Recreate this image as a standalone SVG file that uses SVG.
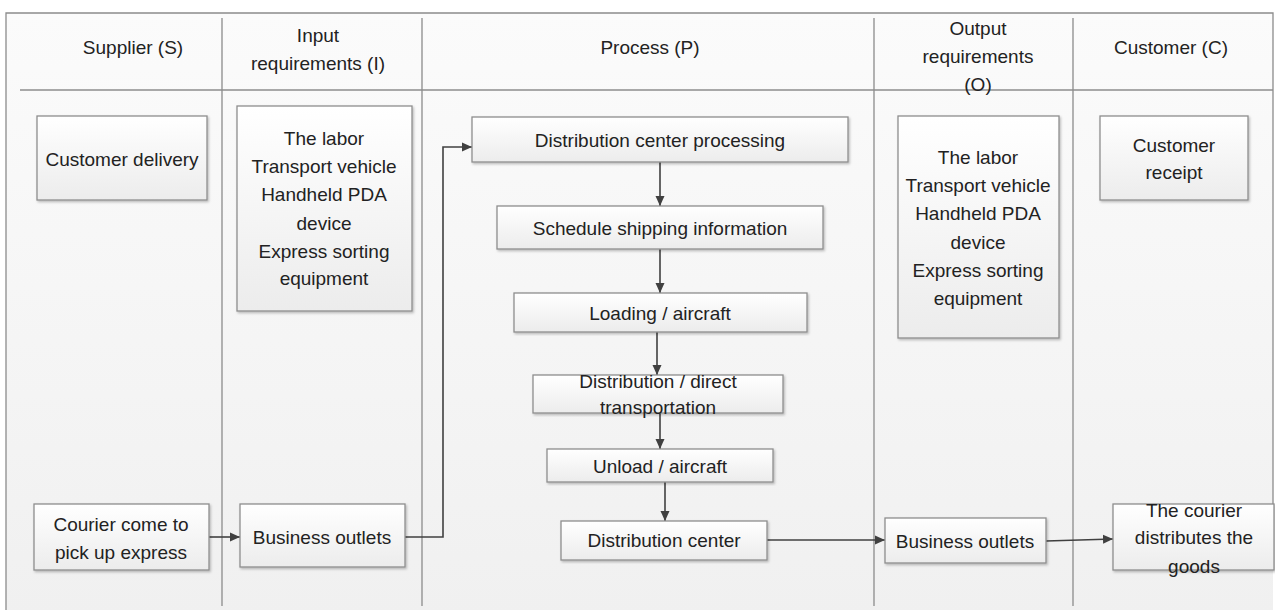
<svg xmlns="http://www.w3.org/2000/svg" width="1275" height="610" viewBox="0 0 1275 610">
<style>
text{font-family:"Liberation Sans",Arial,sans-serif;font-size:19px;fill:#222;text-anchor:middle}
.lane{stroke:#8c8c8c;stroke-width:1.3;fill:none}
.box{fill:url(#bg);stroke:#8e8e8e;stroke-width:1.3;filter:url(#sh)}
.con{stroke:#404040;stroke-width:1.6;fill:none;marker-end:url(#ah)}
</style>
<defs>
<linearGradient id="bg" x1="0" y1="0" x2="0" y2="1"><stop offset="0" stop-color="#ffffff"/><stop offset="1" stop-color="#ececec"/></linearGradient>
<linearGradient id="pg" x1="0" y1="0" x2="0" y2="1"><stop offset="0" stop-color="#fbfbfb"/><stop offset="1" stop-color="#f0f0f0"/></linearGradient>
<filter id="sh" x="-5%" y="-5%" width="110%" height="115%"><feDropShadow dx="1.2" dy="1.5" stdDeviation="0.8" flood-color="#000" flood-opacity="0.25"/></filter>
<marker id="ah" viewBox="0 0 10 10" refX="10" refY="5" markerWidth="10" markerHeight="10" markerUnits="userSpaceOnUse" orient="auto"><path d="M0,0.5 L10,5 L0,9.5 Z" fill="#404040"/></marker>
</defs>
<rect width="1275" height="610" fill="#ffffff"/>
<g id="frame">
<rect x="6" y="13" width="1267" height="600" fill="url(#pg)" stroke="none"/>
<path class="lane" d="M6,613 V13 H1273 V570"/>
<path class="lane" d="M20,90 H1273"/>
<path class="lane" d="M222,18 V606 M422,18 V606 M874,18 V606 M1073,18 V606"/>
</g>
<g id="headers">
<text x="133" y="54">Supplier (S)</text>
<text x="318" y="42">Input</text>
<text x="318" y="70">requirements (I)</text>
<text x="650" y="54">Process (P)</text>
<text x="978" y="35">Output</text>
<text x="978" y="63">requirements</text>
<text x="978" y="91">(O)</text>
<text x="1171" y="54">Customer (C)</text>
</g>
<g id="connectors">
<path class="con" d="M660,162 V206"/>
<path class="con" d="M660,249 V293"/>
<path class="con" d="M657,332 V375"/>
<path class="con" d="M660,413 V449"/>
<path class="con" d="M665,482 V521"/>
<path class="con" d="M209,537 H240"/>
<path class="con" d="M405,537 H443 V147 H472"/>
<path class="con" d="M767,540 H885"/>
<path class="con" d="M1046,541 L1113,539"/>
</g>
<g id="customer-delivery"><rect class="box" x="37" y="116" width="170" height="84"/><text x="122" y="166">Customer delivery</text></g>
<g id="input-resources"><rect class="box" x="237" y="106" width="175" height="205"/>
<text x="324" y="145">The labor</text><text x="324" y="173">Transport vehicle</text><text x="324" y="201">Handheld PDA</text><text x="324" y="230">device</text><text x="324" y="258">Express sorting</text><text x="324" y="285">equipment</text></g>
<g id="dc-processing"><rect class="box" x="472" y="117" width="376" height="45"/><text x="660" y="147">Distribution center processing</text></g>
<g id="schedule"><rect class="box" x="497" y="206" width="326" height="43"/><text x="660" y="235">Schedule shipping information</text></g>
<g id="loading"><rect class="box" x="514" y="293" width="293" height="39"/><text x="660" y="320">Loading / aircraft</text></g>
<g id="distribution-direct"><rect class="box" x="533" y="375" width="250" height="38"/><text x="658" y="388">Distribution / direct</text><text x="658" y="414">transportation</text></g>
<g id="unload"><rect class="box" x="547" y="449" width="226" height="33"/><text x="660" y="473">Unload / aircraft</text></g>
<g id="distribution-center"><rect class="box" x="561" y="521" width="206" height="39"/><text x="664" y="547">Distribution center</text></g>
<g id="courier-pickup"><rect class="box" x="34" y="504" width="175" height="66"/><text x="121" y="531">Courier come to</text><text x="121" y="559">pick up express</text></g>
<g id="business-outlets-in"><rect class="box" x="240" y="504" width="165" height="63"/><text x="322" y="544">Business outlets</text></g>
<g id="output-resources"><rect class="box" x="898" y="116" width="161" height="222"/>
<text x="978" y="164">The labor</text><text x="978" y="192">Transport vehicle</text><text x="978" y="220">Handheld PDA</text><text x="978" y="249">device</text><text x="978" y="277">Express sorting</text><text x="978" y="305">equipment</text></g>
<g id="customer-receipt"><rect class="box" x="1100" y="116" width="148" height="84"/><text x="1174" y="152">Customer</text><text x="1174" y="179">receipt</text></g>
<g id="business-outlets-out"><rect class="box" x="885" y="518" width="161" height="45"/><text x="965" y="548">Business outlets</text></g>
<g id="courier-distributes"><rect class="box" x="1113" y="504" width="161" height="66"/><text x="1194" y="517">The courier</text><text x="1194" y="544">distributes the</text><text x="1194" y="573">goods</text></g>
</svg>
